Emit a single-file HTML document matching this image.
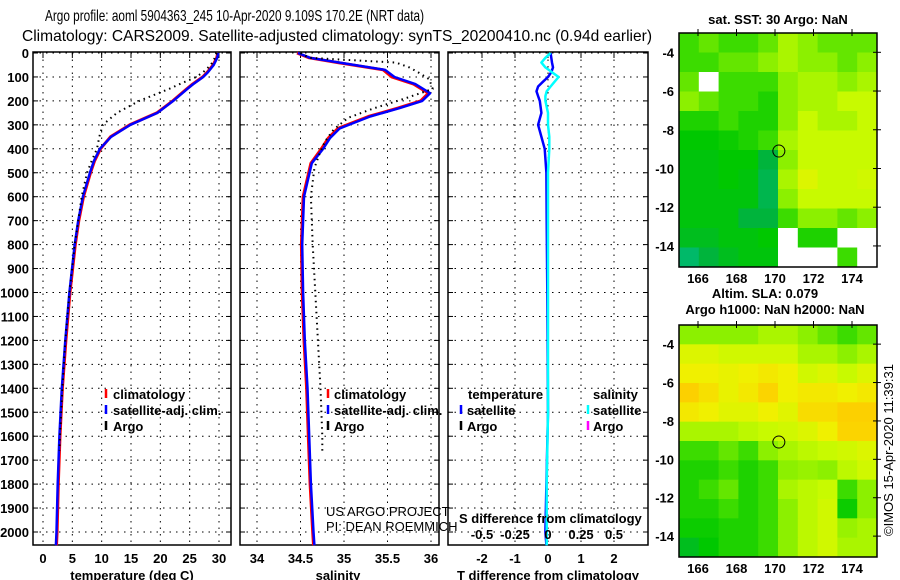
<!DOCTYPE html>
<html><head><meta charset="utf-8"><style>
body{margin:0;background:#fff}
svg{display:block}
text{font-family:"Liberation Sans",sans-serif;font-size:13px;font-weight:bold;fill:#000}
.t{font-weight:normal;font-size:16px}
.n{font-weight:normal;font-size:13px}
</style></head><body>
<svg id="c" width="900" height="580" viewBox="0 0 900 580">
<text class="t" x="45" y="21" textLength="379" lengthAdjust="spacingAndGlyphs">Argo profile: aoml 5904363_245 10-Apr-2020 9.109S 170.2E (NRT data)</text>
<text class="t" x="22" y="41" textLength="630" lengthAdjust="spacingAndGlyphs">Climatology: CARS2009. Satellite-adjusted climatology: synTS_20200410.nc (0.94d earlier)</text>
<g id="g"></g>
</svg>
<script>
const tDepth=[0,20,50,80,100,130,150,200,250,300,350,400,450,500,600,700,800,1000,1200,1400,1600,1800,2000,2055];
const tClim=[29.8,29.6,29.0,28.0,27.2,25.5,24.5,22.1,19.4,14.8,11.5,9.8,8.8,8.1,6.9,6.1,5.5,4.6,3.9,3.3,2.9,2.6,2.4,2.3];
const tSat=[29.9,29.7,29.1,28.1,27.3,25.6,24.6,22.2,19.5,14.9,11.6,9.7,8.7,8.0,6.8,6.0,5.4,4.5,3.8,3.2,2.8,2.5,2.3,2.2];
const aDepth=[0,20,50,80,100,130,150,200,250,300,350,400,450,500,600,700,800,1000,1200,1400,1600,1660];
const tArgo=[29.6,29.3,28.6,27.3,26.1,23.3,21.5,16.4,12.6,10.2,9.6,9.2,8.3,7.5,6.6,6.0,5.4,4.5,3.8,3.3,2.9,2.8];
const sDepth=[0,20,40,70,100,130,168,200,230,265,315,355,400,460,600,800,1000,1200,1400,1600,1800,2000,2055];
const sClim=[34.46,34.6,34.93,35.45,35.55,35.8,35.97,35.88,35.62,35.28,34.93,34.82,34.74,34.62,34.53,34.51,34.52,34.54,34.57,34.59,34.61,34.64,34.65];
const sSat=[34.47,34.61,34.95,35.47,35.58,35.82,35.99,35.9,35.64,35.3,34.95,34.84,34.76,34.63,34.54,34.52,34.53,34.55,34.58,34.6,34.62,34.65,34.66];
const sArgo=[34.5,34.6,35.6,35.75,35.85,35.98,36.02,35.7,35.35,35.05,34.88,34.78,34.72,34.66,34.62,34.64,34.67,34.7,34.73,34.75,34.75];
const sArgoDepth=[0,20,40,60,80,110,150,190,230,270,320,370,420,480,600,800,1000,1200,1400,1600,1660];
const dDepth=[0,20,40,60,80,100,120,140,160,180,200,250,300,350,400,500,700,1000,1500,1800,2000,2055];
const dT=[0.08,0.1,0.12,0.15,0.1,0.0,-0.15,-0.3,-0.35,-0.3,-0.25,-0.2,-0.3,-0.2,-0.1,-0.05,-0.04,-0.02,0.0,-0.05,-0.08,-0.05];
const dS=[0.02,-0.02,-0.05,-0.02,0.03,0.08,0.05,0.02,-0.01,-0.02,-0.02,0.0,0.0,0.01,0.01,0.0,0.0,0.0,0.0,-0.01,-0.01,-0.01];
const depthTicks=[0,100,200,300,400,500,600,700,800,900,1000,1100,1200,1300,1400,1500,1600,1700,1800,1900,2000];
const tTicks=[0,5,10,15,20,25,30];
const sTicks=[34,34.5,35,35.5,36];
const dtTicks=[-2,-1,0,1,2];
const dsTicks=[-0.5,-0.25,0,0.25,0.5];
const dsLabels=["-0.5","-0.25","0","0.25","0.5"];
const latTicks=[-4,-6,-8,-10,-12,-14];
const lonTicks=[166,168,170,172,174];
const sst=[
[0.5,0.55,0.5,0.5,0.55,0.65,0.6,0.55,0.55,0.55],
[0.5,0.5,0.55,0.55,0.6,0.65,0.6,0.6,0.55,0.6],
[0.55,-1,0.5,0.5,0.5,0.6,0.65,0.65,0.6,0.65],
[0.6,0.55,0.5,0.5,0.45,0.6,0.65,0.65,0.7,0.7],
[0.45,0.45,0.5,0.45,0.45,0.6,0.7,0.65,0.65,0.7],
[0.4,0.4,0.42,0.45,0.5,0.65,0.7,0.7,0.7,0.7],
[0.38,0.38,0.4,0.4,0.3,0.6,0.7,0.7,0.7,0.7],
[0.38,0.38,0.4,0.38,0.28,0.65,0.75,0.7,0.7,0.72],
[0.38,0.38,0.38,0.38,0.28,0.6,0.7,0.7,0.7,0.7],
[0.38,0.38,0.38,0.3,0.3,0.5,0.6,0.6,0.55,0.6],
[0.35,0.35,0.38,0.38,0.4,-1,0.45,0.45,-1,-1],
[0.25,0.3,0.35,0.38,0.38,-1,-1,-1,0.5,-1]];
const sla=[
[0.6,0.6,0.6,0.6,0.65,0.65,0.6,0.55,0.5,0.55],
[0.75,0.75,0.72,0.72,0.72,0.72,0.65,0.65,0.6,0.65],
[0.8,0.8,0.78,0.8,0.82,0.8,0.72,0.75,0.7,0.75],
[0.88,0.84,0.78,0.82,0.87,0.8,0.82,0.82,0.8,0.82],
[0.82,0.8,0.76,0.76,0.8,0.76,0.85,0.85,0.88,0.88],
[0.65,0.65,0.65,0.68,0.7,0.72,0.75,0.8,0.87,0.87],
[0.5,0.5,0.55,0.5,0.6,0.65,0.68,0.7,0.72,0.75],
[0.45,0.45,0.5,0.45,0.5,0.6,0.62,0.6,0.68,0.72],
[0.45,0.5,0.55,0.45,0.5,0.65,0.68,0.7,0.5,0.6],
[0.45,0.45,0.5,0.45,0.5,0.6,0.68,0.72,0.42,0.6],
[0.42,0.42,0.45,0.45,0.5,0.6,0.68,0.72,0.62,0.65],
[0.35,0.4,0.45,0.45,0.5,0.6,0.68,0.72,0.65,0.65]];
const floatLon=170.2, floatLat=-9.1;

const NS="http://www.w3.org/2000/svg";
const G=document.getElementById('g');
function mk(tag,at,txt){const e=document.createElementNS(NS,tag);for(const k in at)e.setAttribute(k,at[k]);if(txt!==undefined)e.textContent=txt;G.appendChild(e);return e;}
const Y0=53, PY=0.2395, BOT=545;
const yD=d=>Y0+d*PY;
function lin(v0,p0,v1,p1){return v=>p0+(v-v0)*(p1-p0)/(v1-v0);}
const panels=[{x0:33,x1:231,sx:lin(0,43,30,219),ticks:tTicks,name:'temperature'},
{x0:240,x1:439,sx:lin(34,257,36,431),ticks:sTicks,name:'salinity'},
{x0:448,x1:648,sx:lin(-2,482,2,614),ticks:dtTicks,name:'difference'}];
panels.forEach((p,i)=>{
 depthTicks.forEach(d=>{const l=mk('line',{x1:p.x0,x2:p.x1,y1:yD(d),y2:yD(d),stroke:'#000','stroke-dasharray':'1.5 5'});
 
 const t1=mk('line',{x1:p.x0,x2:p.x0+5,y1:yD(d),y2:yD(d),stroke:'#000'});
 const t2=mk('line',{x1:p.x1-5,x2:p.x1,y1:yD(d),y2:yD(d),stroke:'#000'});
 if(i==0){const t=mk('text',{x:29,y:yD(d)+5,'text-anchor':'end'},String(d));}
 });
 p.ticks.forEach(v=>{const x=p.sx(v);
 const l=mk('line',{x1:x,x2:x,y1:Y0,y2:BOT,stroke:'#000','stroke-dasharray':'1.5 5'});
 const tk=mk('line',{x1:x,x2:x,y1:Y0-1,y2:Y0+5,stroke:'#000'});
 const t=mk('text',{x:x,y:563,'text-anchor':'middle'},String(v));});
 const r=mk('rect',{x:p.x0,y:Y0-1,width:p.x1-p.x0,height:BOT-Y0+1,fill:'none',stroke:'#000','stroke-width':1.5});
 
});
function line(xs,ds,sx,col,w,name,dash){const pts=xs.map((v,i)=>sx(v).toFixed(1)+','+yD(ds[i]).toFixed(1)).join(' ');
 const a={points:pts,fill:'none',stroke:col,'stroke-width':w,'stroke-linejoin':'round'};if(dash)a['stroke-dasharray']=dash;
 const e=mk('polyline',a);}
const P=panels;
line(tClim,tDepth,P[0].sx,'#f00',3,'temperature-climatology-line');
line(tSat,tDepth,P[0].sx,'#00f',2.5,'temperature-satellite-line');
line(tArgo,aDepth,P[0].sx,'#000',2,'temperature-argo-line','1.5 4');
line(sClim,sDepth,P[1].sx,'#f00',3,'salinity-climatology-line');
line(sSat,sDepth,P[1].sx,'#00f',2.5,'salinity-satellite-line');
line(sArgo,sArgoDepth,P[1].sx,'#000',2,'salinity-argo-line','1.5 4');
const sxS=lin(-0.5,482,0.5,614);
line(dT,dDepth,P[2].sx,'#00f',2.5,'temperature-difference-line');
line(dS,dDepth,sxS,'#0ff',2.5,'salinity-difference-line');
dsTicks.forEach((v,i)=>{const t=mk('text',{x:sxS(v),y:539,'text-anchor':'middle'},dsLabels[i]);});
function T(x,y,s,name,cls,anchor){const a={x:x,y:y};if(cls)a['class']=cls;if(anchor)a['text-anchor']=anchor;const t=mk('text',a,s);return t;}
function key(x,y,col,name){const l=mk('line',{x1:x,x2:x,y1:y-11,y2:y-2,stroke:col,'stroke-width':2.5});}
T(459,523,'S difference from climatology','s-diff-axis-title');
T(132,580,'temperature (deg C)','temperature-axis-title',null,'middle');
T(338,580,'salinity','salinity-axis-title',null,'middle');
T(548,580,'T difference from climatology','t-diff-axis-title',null,'middle');
[[106,113],[328,334]].forEach(([kx,tx],i)=>{
 key(kx,400,'#f00','legend-climatology-key');T(tx,399,'climatology','legend-climatology');
 key(kx,416,'#00f','legend-satellite-key');T(tx,415,'satellite-adj. clim.','legend-satellite');
 key(kx,432,'#000','legend-argo-key');T(tx,431,'Argo','legend-argo');});
T(468,399,'temperature','legend-temperature-heading');T(593,399,'salinity','legend-salinity-heading');
key(461,416,'#00f','legend-t-satellite-key');T(467,415,'satellite','legend-t-satellite');
key(461,432,'#000','legend-t-argo-key');T(467,431,'Argo','legend-t-argo');
key(588,416,'#0ff','legend-s-satellite-key');T(593,415,'satellite','legend-s-satellite');
key(588,432,'#f0f','legend-s-argo-key');T(593,431,'Argo','legend-s-argo');
T(326,516,'US ARGO PROJECT','credit-project','n');T(326,531,'PI: DEAN ROEMMICH','credit-pi','n');
const stops=[[0.2,[0,190,150]],[0.3,[0,180,60]],[0.4,[0,200,0]],[0.5,[60,220,0]],[0.6,[140,240,0]],[0.7,[200,250,0]],[0.8,[240,240,0]],[0.9,[255,200,0]]];
function col(v){if(v<0)return '#fff';if(v<=stops[0][0])return 'rgb('+stops[0][1]+')';
 for(let i=1;i<stops.length;i++){if(v<=stops[i][0]){const a=stops[i-1],b=stops[i],f=(v-a[0])/(b[0]-a[0]);return 'rgb('+a[1].map((c,k)=>Math.round(c+(b[1][k]-c)*f)).join(',')+')';}}
 return 'rgb('+stops[stops.length-1][1]+')';}
function map(grid,top,bot,name){
 const x0=679,x1=877,lx=lin(166,698,174,852),ly=lin(-4,top+ (bot-top)*0.0825,-14,top+(bot-top)*0.91);
 const ny=grid.length,nx=grid[0].length;
 const cw=(x1-x0)/nx,ch=(bot-top)/ny;
 grid.forEach((row,j)=>row.forEach((v,i)=>{const r=mk('rect',{x:(x0+i*cw).toFixed(2),y:(top+j*ch).toFixed(2),width:(cw+0.5).toFixed(2),height:(ch+0.5).toFixed(2),fill:col(v)});
  }));
 latTicks.forEach(v=>{const y=ly(v);T(674,y+5,String(v),name+'-lat-label',null,'end');
  const a=mk('line',{x1:x1-4,x2:x1+4,y1:y,y2:y,stroke:'#000'});});
 lonTicks.forEach(v=>{const x=lx(v);T(x,bot+16,String(v),name+'-lon-label',null,'middle');
  const a=mk('line',{x1:x,x2:x,y1:top-4,y2:top+3,stroke:'#000'});});
 const c=mk('circle',{cx:lx(floatLon),cy:ly(floatLat),r:6,fill:'none',stroke:'#000'});
 const f=mk('rect',{x:x0,y:top,width:x1-x0,height:bot-top,fill:'none',stroke:'#000','stroke-width':1.5});
}
map(sst,33,267,'sst-map');
map(sla,325,557,'sla-map');
T(778,24,'sat. SST: 30 Argo: NaN','sst-map-title',null,'middle');
T(765,298,'Altim. SLA: 0.079','sla-value-label',null,'middle');
T(775,314,'Argo h1000: NaN h2000: NaN','sla-map-title',null,'middle');
const rt=T(0,0,'©IMOS 15-Apr-2020 11:39:31','timestamp-label','n','middle');
rt.setAttribute('transform','translate(893,450) rotate(-90)');
</script>
</body></html>
